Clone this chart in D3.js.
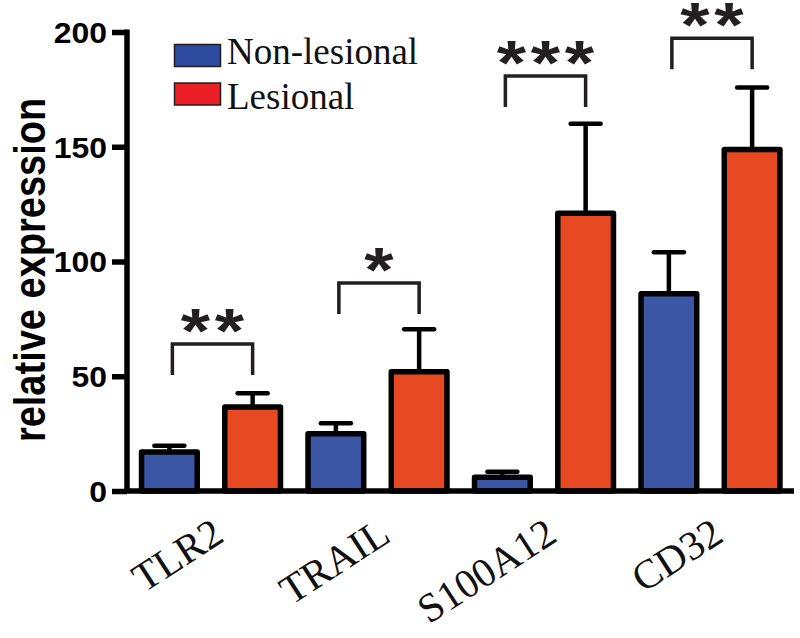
<!DOCTYPE html>
<html><head><meta charset="utf-8">
<script src="https://cdn.jsdelivr.net/npm/d3@7"></script>
<style>body{margin:0;background:#fff}svg{display:block}</style>
</head><body>
<svg id="c" width="800" height="638"></svg>
<script>
const categories = ["TLR2", "TRAIL", "S100A12", "CD32"];
const seriesNames = ["Non-lesional", "Lesional"];
const nonLesional = [17, 25, 6, 86];
const nonLesionalErr = [2.7, 4.5, 2.4, 18];
const lesional = [36.6, 52, 121, 148.8];
const lesionalErr = [6, 18.5, 39, 27];
const significance = ["**", "*", "***", "**"];
const bracketLevel = [64, 90.6, 180.8, 197.3];
const yTicks = [0, 50, 100, 150, 200];

const barColors = ["#3C56A6", "#E74A23"];
const legendColors = ["#2D4B9F", "#EC1F26"];

const svg = d3.select("#c");
const x = d3.scaleBand().domain(categories).range([127.75, 793.75]).padding(0);
const xi = d3.scaleBand().domain([0, 1]).range([0, x.bandwidth()]).paddingInner(0.265).paddingOuter(0.1325);
const y = d3.scaleLinear().domain([0, 200]).range([491, 32]);

const series = [
  {vals: nonLesional, err: nonLesionalErr},
  {vals: lesional, err: lesionalErr}
];

// bars
const g = svg.append("g");
series.forEach((s, si) => {
  categories.forEach((c, ci) => {
    const cx = x(c) + xi(si) + xi.bandwidth() / 2;
    const top = y(s.vals[ci]);
    const capY = y(s.vals[ci] + s.err[ci]);
    g.append("line").attr("x1", cx).attr("x2", cx).attr("y1", top).attr("y2", capY)
      .attr("stroke", "#000").attr("stroke-width", 4.5);
    g.append("line").attr("x1", cx - 15).attr("x2", cx + 15).attr("y1", capY).attr("y2", capY)
      .attr("stroke", "#000").attr("stroke-width", 4.5).attr("stroke-linecap", "round");
    g.append("rect")
      .attr("x", x(c) + xi(si) + 2.75)
      .attr("width", xi.bandwidth() - 5.5)
      .attr("y", top)
      .attr("height", y(0) - top)
      .attr("fill", barColors[si])
      .attr("stroke", "#000").attr("stroke-width", 5.5).attr("stroke-linejoin", "round");
  });
});

// y axis
const yAxis = svg.append("g").attr("transform", "translate(127,0)")
  .call(d3.axisLeft(y).tickValues(yTicks).tickSize(15).tickPadding(5).tickSizeOuter(0));
yAxis.select(".domain").attr("stroke", "#000").attr("stroke-width", 5.5).attr("d", `M0,${y(200) - 2.5}V${y(0)}`);
yAxis.selectAll(".tick line").attr("stroke", "#000").attr("stroke-width", 5.5);
yAxis.selectAll(".tick text")
  .attr("font-family", "Liberation Sans, Arial, sans-serif").attr("font-weight", "bold")
  .attr("font-size", 29).attr("fill", "#000").attr("dy", "0.36em");
yAxis.selectAll(".tick text").each(function() {
  const t = d3.select(this);
  const xx = +t.attr("x");
  t.attr("x", null).attr("transform", `translate(${xx},0) scale(1.1,1)`);
});

// x axis
const xAxis = svg.append("g").attr("transform", `translate(0,${y(0)})`)
  .call(d3.axisBottom(x).tickSize(0).tickSizeOuter(0).tickPadding(0));
xAxis.select(".domain").attr("stroke", "#000").attr("stroke-width", 5.5).attr("d", "M124.5,0H794");
xAxis.selectAll(".tick text")
  .attr("font-family", "Liberation Serif, Times New Roman, serif")
  .attr("font-size", 41).attr("fill", "#111")
  .attr("text-anchor", "end").attr("y", 0).attr("dy", 0)
  .attr("transform", "translate(15,49) rotate(-33)");

// y label
svg.append("text")
  .attr("transform", `translate(45,270) scale(1.15,1) rotate(-90)`)
  .attr("text-anchor", "middle")
  .attr("font-family", "Liberation Sans, Arial, sans-serif").attr("font-weight", "bold")
  .attr("font-size", 38).attr("fill", "#000")
  .text("relative expression");

// significance brackets
categories.forEach((c, ci) => {
  const x1 = x(c) + xi(0) + xi.bandwidth() / 2 + 3;
  const x2 = x(c) + xi(1) + xi.bandwidth() / 2;
  const by = y(bracketLevel[ci]);
  svg.append("path")
    .attr("d", `M${x1},${by + 31}V${by}H${x2}V${by + 31}`)
    .attr("fill", "none").attr("stroke", "#231F20").attr("stroke-width", 3.5);
  svg.append("text")
    .attr("transform", `translate(${(x1 + x2) / 2},${by + 7.5}) scale(1.3,1.08)`)
    .attr("x", 1.8)
    .attr("text-anchor", "middle")
    .attr("font-family", "Liberation Sans, Arial, sans-serif").attr("font-weight", "bold")
    .attr("font-size", 58).attr("letter-spacing", 3.6).attr("fill", "#231F20")
    .text(significance[ci]);
});

// legend
const leg = svg.append("g");
seriesNames.forEach((n, i) => {
  leg.append("rect").attr("x", 174.5).attr("y", 44.5 + i * 38.5).attr("width", 46).attr("height", 22)
    .attr("fill", legendColors[i]).attr("stroke", "#231F20").attr("stroke-width", 1.5);
  leg.append("text").attr("x", 227).attr("y", 63.5 + i * 45.5)
    .attr("font-family", "Liberation Serif, Times New Roman, serif")
    .attr("font-size", 37).attr("fill", "#111").text(n);
});
</script>
</body></html>
